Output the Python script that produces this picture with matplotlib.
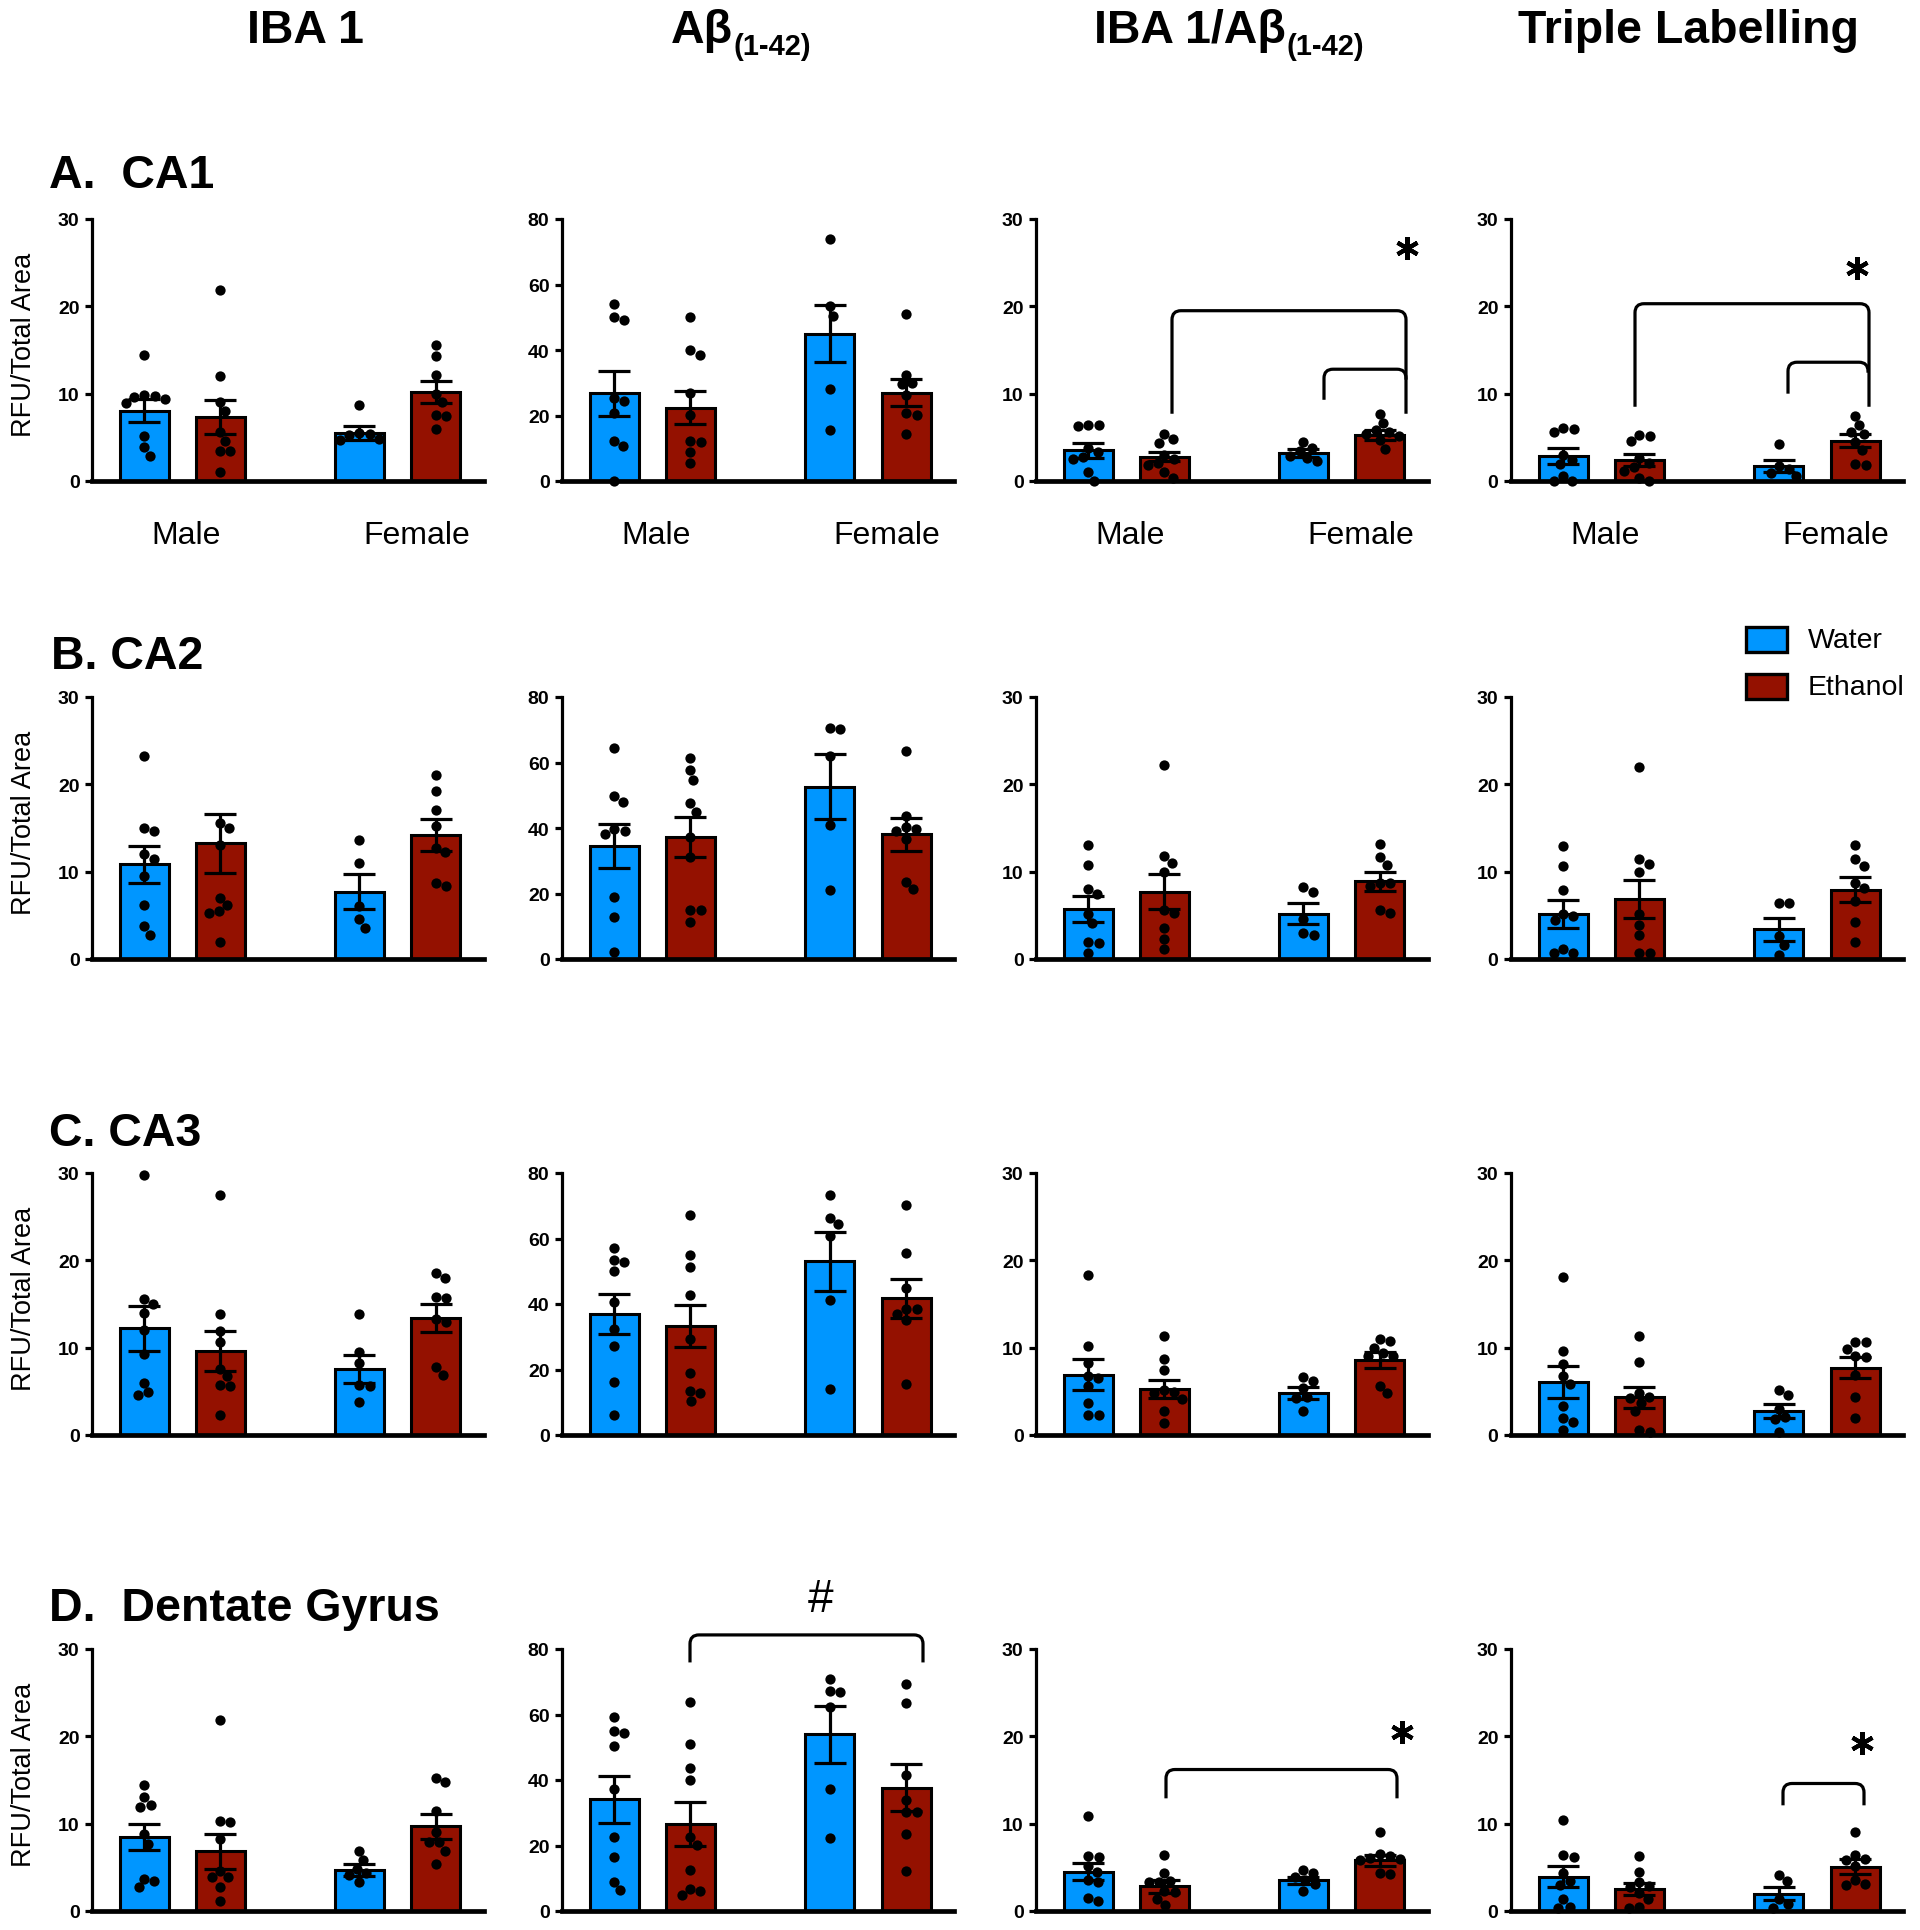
import numpy as np
import matplotlib
matplotlib.use('Agg')
import matplotlib.pyplot as plt
from matplotlib.path import Path
from matplotlib.patches import PathPatch, Rectangle
from matplotlib.transforms import blended_transform_factory

plt.rcParams['font.family'] = ['Liberation Sans', 'DejaVu Sans']

# ---------------- data ----------------
groups = ['Water Male', 'Ethanol Male', 'Water Female', 'Ethanol Female']
sex_labels = ['Male', 'Female']
treatments = ['Water', 'Ethanol']
measures = ['IBA 1', 'Aβ', 'IBA 1/Aβ', 'Triple Labelling']
measure_sub = ['', '(1-42)', '(1-42)', '']
regions = ['A.  CA1', 'B. CA2', 'C. CA3', 'D.  Dentate Gyrus']
y_max = [30, 80, 30, 30]
ticks_30 = [0, 10, 20, 30]
ticks_80 = [0, 20, 40, 60, 80]
ylabel = 'RFU/Total Area'

# CA1
ca1_iba1_mean = [8.05, 7.3, 5.5, 10.2]
ca1_iba1_sem = [1.35, 1.95, 0.8, 1.3]
ca1_iba1_pts = [[14.4, 9.9, 9.7, 9.6, 9.4, 8.9, 5.1, 3.9, 2.9],
                [21.9, 12.0, 9.0, 8.0, 5.6, 4.6, 3.4, 3.4, 1.0],
                [8.7, 5.5, 5.4, 5.3, 4.8, 4.7],
                [15.6, 14.3, 12.1, 10.0, 9.1, 7.6, 7.5, 6.0]]
ca1_ab_mean = [26.8, 22.4, 45.0, 27.0]
ca1_ab_sem = [6.8, 5.0, 8.8, 4.2]
ca1_ab_pts = [[54.0, 50.0, 49.2, 25.3, 24.3, 20.7, 12.3, 10.7, 0.0],
              [50.2, 39.9, 38.5, 26.8, 20.2, 12.2, 12.0, 9.0, 5.4],
              [74.0, 53.5, 50.5, 28.0, 15.5],
              [51.0, 32.4, 29.8, 29.5, 26.3, 20.7, 20.2, 14.3]]
ca1_ratio_mean = [3.5, 2.8, 3.25, 5.3]
ca1_ratio_sem = [0.85, 0.5, 0.45, 0.55]
ca1_ratio_pts = [[6.4, 6.4, 6.3, 3.8, 3.3, 2.8, 2.5, 1.0, 0.0],
                 [5.4, 4.8, 4.4, 3.0, 2.5, 2.1, 1.8, 1.0, 0.3],
                 [4.5, 3.8, 3.4, 2.9, 2.6, 2.3],
                 [7.7, 6.6, 5.8, 5.6, 5.4, 5.2, 4.7, 3.7]]
ca1_triple_mean = [2.9, 2.4, 1.7, 4.6]
ca1_triple_sem = [0.9, 0.65, 0.7, 0.75]
ca1_triple_pts = [[6.1, 6.0, 5.6, 3.0, 2.4, 1.9, 0.6, 0.0, 0.0],
                  [5.3, 5.1, 4.6, 2.6, 2.1, 1.6, 1.2, 0.3, 0.0],
                  [4.2, 1.7, 1.4, 0.9, 0.6],
                  [7.5, 6.4, 5.6, 5.4, 4.5, 3.6, 2.0, 1.8]]

# CA2
ca2_iba1_mean = [10.85, 13.25, 7.7, 14.2]
ca2_iba1_sem = [2.1, 3.4, 2.0, 1.8]
ca2_iba1_pts = [[23.3, 15.0, 14.7, 12.0, 11.5, 9.5, 6.2, 3.8, 2.8],
                [15.6, 15.0, 13.1, 7.0, 6.2, 5.5, 5.3, 2.0],
                [13.6, 11.0, 6.1, 4.6, 3.6],
                [21.1, 19.2, 17.1, 15.2, 12.75, 12.2, 8.75, 8.4]]
ca2_ab_mean = [34.5, 37.3, 52.6, 38.1]
ca2_ab_sem = [6.6, 6.1, 10.0, 5.0]
ca2_ab_pts = [[64.5, 49.7, 47.9, 39.6, 39.1, 38.1, 19.0, 12.9, 2.0],
              [61.4, 57.6, 54.6, 47.5, 44.9, 37.1, 31.0, 14.9, 14.9, 11.2],
              [70.6, 70.1, 61.9, 40.8, 21.1],
              [63.5, 43.7, 40.2, 39.6, 39.1, 36.5, 23.6, 21.3]]
ca2_ratio_mean = [5.75, 7.7, 5.2, 8.9]
ca2_ratio_sem = [1.5, 2.0, 1.2, 1.1]
ca2_ratio_pts = [[13.0, 10.8, 8.0, 7.4, 5.2, 4.1, 1.9, 1.8, 0.7],
                 [22.2, 11.8, 11.0, 10.0, 5.6, 5.3, 3.6, 2.3, 1.1],
                 [8.2, 7.7, 4.6, 3.0, 2.8],
                 [13.2, 11.65, 10.8, 8.7, 8.7, 8.4, 5.65, 5.3]]
ca2_triple_mean = [5.15, 6.9, 3.4, 7.95]
ca2_triple_sem = [1.55, 2.15, 1.3, 1.45]
ca2_triple_pts = [[12.9, 10.7, 7.9, 5.2, 4.9, 4.5, 1.2, 0.7, 0.7],
                  [22.0, 11.4, 10.9, 10.0, 5.1, 3.9, 2.7, 0.7, 0.7],
                  [6.4, 6.4, 2.6, 1.6, 0.5],
                  [13.0, 11.4, 10.7, 8.7, 8.1, 6.6, 4.2, 2.0]]

# CA3
ca3_iba1_mean = [12.2, 9.65, 7.6, 13.4]
ca3_iba1_sem = [2.6, 2.3, 1.6, 1.55]
ca3_iba1_pts = [[29.8, 15.6, 15.0, 14.0, 12.0, 9.3, 6.0, 4.9, 4.6],
                [27.5, 13.9, 11.9, 10.7, 7.6, 6.8, 5.7, 5.6, 2.3],
                [13.8, 9.5, 8.2, 5.7, 5.6, 3.8],
                [18.5, 18.0, 15.8, 15.7, 13.3, 12.9, 7.75, 6.9]]
ca3_ab_mean = [36.9, 33.3, 53.0, 41.7]
ca3_ab_sem = [6.2, 6.3, 9.0, 6.0]
ca3_ab_pts = [[57.1, 53.5, 52.7, 50.2, 40.5, 32.3, 27.2, 16.2, 6.0],
              [67.3, 55.0, 51.2, 42.7, 29.3, 18.8, 13.5, 12.9, 10.4],
              [73.3, 66.2, 64.4, 60.8, 41.2, 14.0],
              [70.2, 55.7, 44.8, 38.4, 38.4, 36.9, 35.1, 15.5]]
ca3_ratio_mean = [6.9, 5.3, 4.8, 8.6]
ca3_ratio_sem = [1.75, 1.05, 0.7, 0.9]
ca3_ratio_pts = [[18.3, 10.2, 8.3, 6.8, 6.5, 5.6, 3.7, 2.3, 2.3],
                 [11.35, 8.7, 7.4, 5.2, 4.9, 4.8, 4.1, 2.7, 1.4],
                 [6.6, 6.2, 5.4, 4.3, 4.2, 2.8],
                 [11.0, 10.8, 10.0, 9.4, 9.1, 9.0, 5.65, 4.8]]
ca3_triple_mean = [6.05, 4.3, 2.8, 7.7]
ca3_triple_sem = [1.85, 1.2, 0.8, 1.2]
ca3_triple_pts = [[18.1, 9.6, 8.1, 6.7, 5.8, 3.3, 2.0, 1.5, 0.6],
                  [11.3, 8.35, 4.8, 4.4, 4.2, 3.65, 2.7, 0.6, 0.4],
                  [5.2, 4.6, 3.0, 2.1, 1.8, 0.4],
                  [10.6, 10.6, 9.9, 9.1, 8.9, 6.9, 4.3, 1.9]]

# Dentate Gyrus
dg_iba1_mean = [8.45, 6.85, 4.7, 9.7]
dg_iba1_sem = [1.5, 2.0, 0.7, 1.4]
dg_iba1_pts = [[14.4, 13.0, 12.1, 11.9, 8.8, 7.7, 3.7, 3.4, 2.7],
               [21.9, 10.25, 10.2, 8.2, 4.6, 3.9, 3.9, 2.7, 1.2],
               [6.9, 5.8, 4.85, 4.3, 4.1, 3.3],
               [15.2, 14.75, 11.5, 9.0, 7.9, 7.9, 6.9, 5.4]]
dg_ab_mean = [34.1, 26.7, 54.0, 37.7]
dg_ab_sem = [7.1, 6.7, 8.7, 7.2]
dg_ab_pts = [[59.1, 54.9, 54.2, 50.4, 37.4, 22.6, 16.5, 8.9, 6.3],
             [63.9, 50.9, 43.7, 40.0, 22.6, 20.1, 12.4, 6.8, 6.0, 4.8],
             [70.8, 67.2, 66.8, 62.4, 37.4, 22.3],
             [69.2, 63.4, 41.5, 33.8, 30.3, 30.3, 23.6, 12.1]]
dg_ratio_mean = [4.5, 2.85, 3.5, 5.8]
dg_ratio_sem = [0.95, 0.75, 0.45, 0.6]
dg_ratio_pts = [[10.9, 6.3, 6.2, 5.1, 4.5, 3.6, 3.3, 1.5, 1.1],
                [6.45, 4.4, 3.4, 3.3, 3.3, 2.25, 2.2, 1.4, 0.65],
                [4.65, 4.3, 3.9, 3.5, 3.1, 2.25],
                [9.1, 6.5, 6.3, 6.1, 6.0, 5.8, 4.3, 4.2]]
dg_triple_mean = [3.9, 2.5, 2.0, 5.05]
dg_triple_sem = [1.2, 0.7, 0.75, 0.85]
dg_triple_pts = [[10.4, 6.4, 6.2, 4.3, 3.4, 3.0, 1.4, 0.5, 0.4],
                 [6.3, 4.5, 3.3, 2.9, 2.75, 2.1, 1.4, 0.45, 0.3],
                 [4.1, 3.4, 1.4, 0.8, 0.4],
                 [9.05, 6.4, 6.0, 5.8, 5.2, 3.5, 3.1, 2.95]]

panels = [
    [(ca1_iba1_mean, ca1_iba1_sem, ca1_iba1_pts), (ca1_ab_mean, ca1_ab_sem, ca1_ab_pts),
     (ca1_ratio_mean, ca1_ratio_sem, ca1_ratio_pts), (ca1_triple_mean, ca1_triple_sem, ca1_triple_pts)],
    [(ca2_iba1_mean, ca2_iba1_sem, ca2_iba1_pts), (ca2_ab_mean, ca2_ab_sem, ca2_ab_pts),
     (ca2_ratio_mean, ca2_ratio_sem, ca2_ratio_pts), (ca2_triple_mean, ca2_triple_sem, ca2_triple_pts)],
    [(ca3_iba1_mean, ca3_iba1_sem, ca3_iba1_pts), (ca3_ab_mean, ca3_ab_sem, ca3_ab_pts),
     (ca3_ratio_mean, ca3_ratio_sem, ca3_ratio_pts), (ca3_triple_mean, ca3_triple_sem, ca3_triple_pts)],
    [(dg_iba1_mean, dg_iba1_sem, dg_iba1_pts), (dg_ab_mean, dg_ab_sem, dg_ab_pts),
     (dg_ratio_mean, dg_ratio_sem, dg_ratio_pts), (dg_triple_mean, dg_triple_sem, dg_triple_pts)],
]

# significance annotations: (row, col, x1, x2, y_top, y_leg_left, y_leg_right)
brackets = [
    (0, 2, 136, 370, 19.5, 7.7, 7.7),
    (0, 2, 288, 370, 12.8, 9.3, 11.6),
    (0, 3, 124, 358, 20.3, 8.5, 8.5),
    (0, 3, 277, 357, 13.6, 10.0, 12.4),
    (3, 1, 128, 361, 84.3, 75.9, 75.9),
    (3, 2, 130, 361, 16.2, 12.9, 12.9),
    (3, 3, 272, 353, 14.6, 12.1, 12.1),
]
stars = [(0, 2, 371, 26.7), (0, 3, 346, 24.4), (3, 2, 366, 20.5), (3, 3, 351, 19.2)]
hashes = [(3, 1, 259, 95.3)]

# ---------------- layout ----------------
W, H = 1920, 1931
fig = plt.figure(figsize=(W / 100, H / 100), dpi=100)

col_left = [92, 562, 1036, 1511]
row_zero = [482, 960, 1436, 1912]
ax_w, ax_h = 392, 262
bar_x = np.array([52, 128, 267.5, 344])
bar_w = 49
colors = ['#0096FF', '#941100', '#0096FF', '#941100']
dot_d = 10.5  # px


def swarm_offsets(vals, ypx, d=dot_d, step=0.5, maxoff=70):
    vals = np.asarray(vals, float)
    order = np.argsort(-vals, kind='stable')
    placed = []
    offs = np.zeros(len(vals))
    cands = sorted(np.arange(-maxoff, maxoff + step, step), key=lambda c: (abs(c), -c))
    for i in order:
        y = vals[i] * ypx
        for c in cands:
            if all((c - px) ** 2 + (y - py) ** 2 >= (d * 0.97) ** 2 for px, py in placed):
                offs[i] = c
                placed.append((c, y))
                break
    return offs


def draw_bracket(ax, x1, x2, ytop, yb1, yb2, ypx, r=9.0):
    ry = r / ypx
    verts = [(x1, yb1), (x1, ytop - ry), (x1, ytop), (x1 + r, ytop),
             (x2 - r, ytop), (x2, ytop), (x2, ytop - ry), (x2, yb2)]
    codes = [Path.MOVETO, Path.LINETO, Path.CURVE3, Path.CURVE3,
             Path.LINETO, Path.CURVE3, Path.CURVE3, Path.LINETO]
    ax.add_patch(PathPatch(Path(verts, codes), fill=False, lw=2.3, ec='black',
                           clip_on=False, capstyle='butt', joinstyle='round', zorder=6))


axes = {}
for r in range(4):
    for c in range(4):
        left = col_left[c] / W
        bottom = 1 - row_zero[r] / H
        ax = fig.add_axes([left, bottom, ax_w / W, ax_h / H])
        axes[(r, c)] = ax
        ymax = y_max[c]
        ypx = ax_h / ymax
        means, sems, pts = panels[r][c]
        ax.bar(bar_x, means, width=bar_w, color=colors, edgecolor='black',
               linewidth=2.2, zorder=2)
        ax.errorbar(bar_x, means, yerr=sems, fmt='none', ecolor='black',
                    elinewidth=2.3, capsize=11.5, capthick=2.3, zorder=3)
        for g in range(4):
            offs = swarm_offsets(pts[g], ypx)
            ax.plot(bar_x[g] + offs, pts[g], 'o', ms=7.4, color='black', mec='black',
                    mew=0, clip_on=False, zorder=4)
        ax.set_xlim(0, ax_w)
        ax.set_ylim(0, ymax)
        ax.set_yticks(ticks_80 if ymax == 80 else ticks_30)
        ax.set_xticks([])
        for s in ['top', 'right']:
            ax.spines[s].set_visible(False)
        ax.spines['left'].set_linewidth(2.3)
        ax.spines['bottom'].set_linewidth(3.4)
        ax.spines['left'].set_capstyle('projecting')
        ax.tick_params(axis='y', direction='out', length=5, width=2.3, pad=4,
                       labelsize=14)
        for lab in ax.get_yticklabels():
            lab.set_fontweight('bold')
        ax.patch.set_visible(False)
        if r == 0:
            trans = blended_transform_factory(ax.transData, ax.transAxes)
            ax.text(94, -0.205, sex_labels[0], transform=trans, ha='center', va='center',
                    fontsize=23)
            ax.text(325, -0.205, sex_labels[1], transform=trans, ha='center', va='center',
                    fontsize=23)

for (r, c, x1, x2, yt, yb1, yb2) in brackets:
    draw_bracket(axes[(r, c)], x1, x2, yt, yb1, yb2, ax_h / y_max[c])
for (r, c, x, y) in stars:
    axes[(r, c)].plot([x], [y], marker=(6, 2, 0), ms=16.5, mew=3.0, color='black',
                      clip_on=False, zorder=6)
for (r, c, x, y) in hashes:
    axes[(r, c)].text(x, y, '#', ha='center', va='center', fontsize=33, clip_on=False,
                      zorder=6)

# overlay for figure-level text
ax0 = fig.add_axes([0, 0, 1, 1], zorder=10)
ax0.set_xlim(0, W)
ax0.set_ylim(H, 0)
ax0.axis('off')
ax0.patch.set_visible(False)

# column titles
title_pos = [(305, 'center'), (671, 'left'), (1094, 'left'), (1688, 'center')]
for c in range(4):
    x, ha = title_pos[c]
    t = ax0.text(x, 43, measures[c], fontsize=33.5, fontweight='bold', ha=ha, va='baseline')
    if measure_sub[c]:
        ax0.annotate(measure_sub[c], xy=(1, 0), xycoords=t, xytext=(0.5, -1.5),
                     textcoords='offset points', fontsize=21, fontweight='bold',
                     ha='left', va='baseline')

# row titles
row_base = [188, 669, 1146, 1621]
row_x = [49, 51, 49, 49]
for r in range(4):
    ax0.text(row_x[r], row_base[r], regions[r], fontsize=33.5, fontweight='bold',
             ha='left', va='baseline')
    ax0.text(24.5, row_zero[r] - ax_h / 2 - 6, ylabel, rotation=90, fontsize=19.5,
             ha='center', va='center')

# legend
leg_y = [640.5, 687.5]
for i, name in enumerate(treatments):
    ax0.add_patch(Rectangle((1746, leg_y[i] - 12.5), 41, 25, facecolor=colors[i],
                            edgecolor='black', linewidth=2.4))
    ax0.text(1808, leg_y[i], name, fontsize=20.5, ha='left', va='center')

fig.savefig('out.png', dpi=100)
